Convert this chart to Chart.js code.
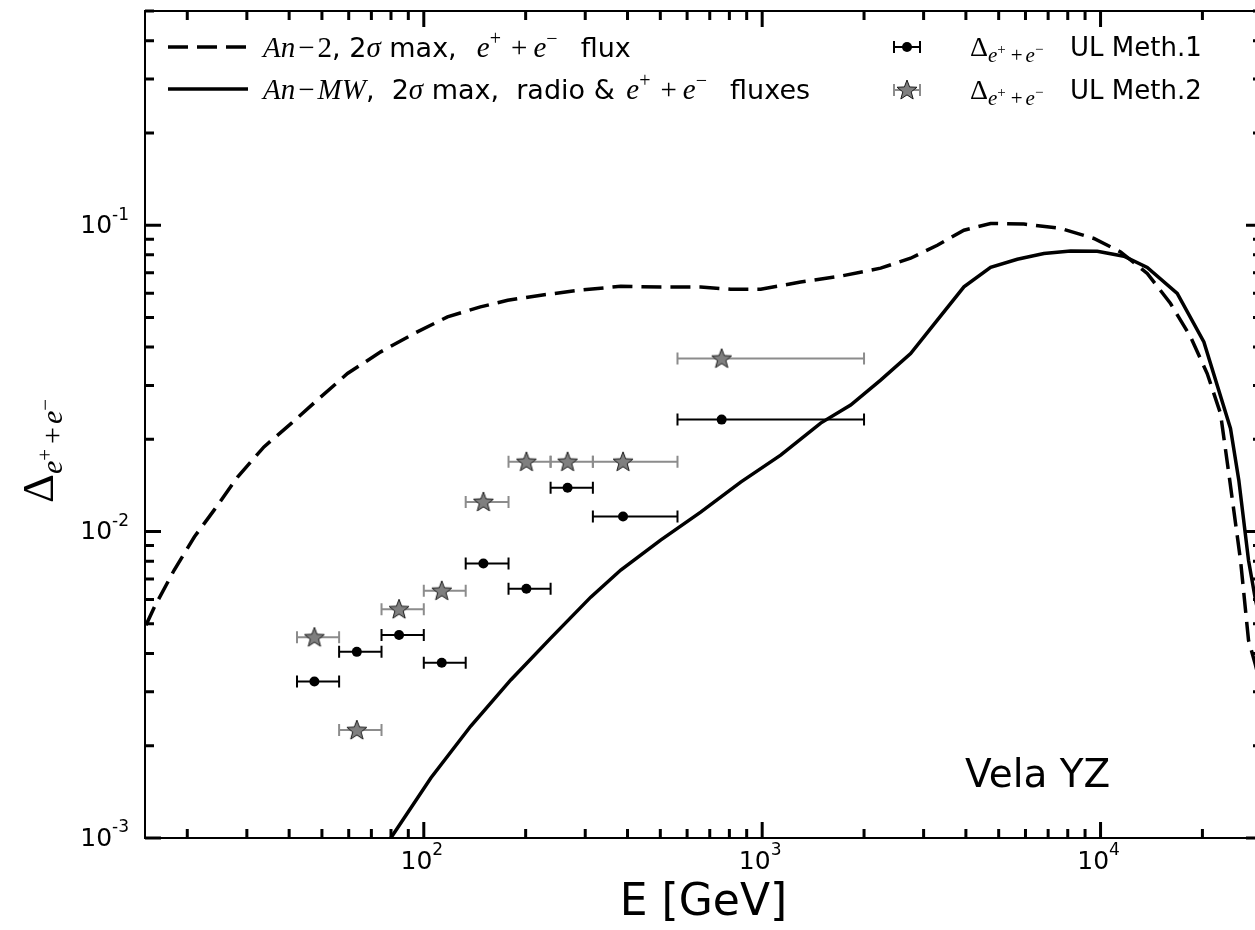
<!DOCTYPE html>
<html>
<head>
<meta charset="utf-8">
<script src="https://cdn.jsdelivr.net/npm/chart.js@4.4.1/dist/chart.umd.min.js"></script>
<style>
  html, body { margin: 0; padding: 0; background: #fff; overflow: hidden; width: 1255px; height: 930px; }
  #wrap { position: relative; width: 1270px; height: 930px; }
  canvas { display: block; }
</style>
</head>
<body>
<div id="wrap"><canvas id="chart" width="1270" height="930"></canvas></div>
<script>
// ---- Upper limits on the e+ + e- anisotropy for Vela YZ ----
const energy  = [47.5, 63.4, 84.5, 113, 150, 201, 266, 388, 759];        // GeV, bin centres
const binLow  = [42.2, 56.2, 75.0, 100, 133, 178, 237, 316, 562];        // GeV
const binHigh = [56.2, 75.0, 100, 133, 178, 237, 316, 562, 2000];        // GeV
const ulMeth1 = [0.00324, 0.00405, 0.00460, 0.00373, 0.00787, 0.00651, 0.0139, 0.0112, 0.0232];
const ulMeth2 = [0.00452, 0.00225, 0.00558, 0.00641, 0.0125, 0.0169, 0.0169, 0.0169, 0.0367];

// ---- Model curves: 2 sigma maximal anisotropy ----
const an2Energy = [15.1, 16.0, 18.3, 21.0, 24.0, 28.2, 33.7, 40.5, 48.5, 59.5, 74.6, 93.6, 117.5, 147, 177, 222,
                   291, 382, 501, 658, 807, 990, 1299, 1706, 2239, 2746, 3293, 3947, 4732, 5934, 7618, 9556,
                   11460, 13740, 16100, 18450, 20660, 22620, 23930, 25920, 27370, 28700, 30000];
const an2Delta  = [0.00495, 0.00568, 0.00749, 0.00962, 0.01175, 0.0151, 0.0189, 0.0225, 0.0269, 0.0328, 0.0386,
                   0.0443, 0.0502, 0.0541, 0.0569, 0.0591, 0.0614, 0.0632, 0.0628, 0.0628, 0.0618, 0.0618, 0.0652,
                   0.0682, 0.0724, 0.0780, 0.0860, 0.0963, 0.1013, 0.1008, 0.0976, 0.0905, 0.0818, 0.0696, 0.0555,
                   0.0432, 0.0328, 0.0243, 0.0155, 0.00807, 0.00442, 0.00367, 0.0030];
const anMWEnergy = [79.9, 104.9, 137.7, 180.7, 237.2, 311.4, 382, 501, 658, 864, 1134, 1489, 1826, 2239, 2746,
                    3293, 3947, 4732, 5675, 6800, 8155, 9779, 11720, 13740, 16850, 20200, 24210, 25620, 27370,
                    28700, 30000];
const anMWDelta  = [0.001, 0.00157, 0.00232, 0.00328, 0.00449, 0.00611, 0.00749, 0.00938, 0.01158, 0.0145,
                    0.01777, 0.0226, 0.02587, 0.0312, 0.0381, 0.049, 0.0629, 0.0728, 0.0774, 0.0808, 0.0824,
                    0.0822, 0.0792, 0.0728, 0.0599, 0.0416, 0.0217, 0.01472, 0.00806, 0.00598, 0.0048];

// ---- Axis settings ----
const xRange = [15, 30000];
const yRange = [0.001, 0.5];
const xLabelTicks = [100, 1000, 10000];
const yLabelTicks = [0.001, 0.01, 0.1];

const SANS = '"DejaVu Sans", sans-serif';
const SERIF = '"Liberation Serif", "DejaVu Serif", serif';

// five-pointed star marker
function makeStar(size, rOut, rIn, fill, edge) {
  const c = document.createElement('canvas');
  c.width = size; c.height = size;
  const g = c.getContext('2d');
  const cx = size / 2, cy = size / 2 + 0.5;
  g.beginPath();
  for (let i = 0; i < 10; i++) {
    const r = i % 2 === 0 ? rOut : rIn;
    const a = -Math.PI / 2 + i * Math.PI / 5;
    const px = cx + r * Math.cos(a), py = cy + r * Math.sin(a);
    if (i === 0) g.moveTo(px, py); else g.lineTo(px, py);
  }
  g.closePath();
  g.fillStyle = fill; g.fill();
  g.lineWidth = 1; g.strokeStyle = edge; g.stroke();
  return c;
}
const starImg = makeStar(26, 10.5, 4.4, '#7f7f7f', '#1a1a1a');

function logTicks(min, max) {
  const out = [];
  for (let e = Math.floor(Math.log10(min)); e <= Math.ceil(Math.log10(max)); e++) {
    for (let k = 1; k <= 9; k++) {
      const v = k * Math.pow(10, e);
      if (v >= min * 0.999 && v <= max * 1.001) out.push({ v, major: k === 1 });
    }
  }
  return out;
}

// text runs: [{t, font, dy, gap}]
function runsWidth(ctx, runs) {
  let w = 0;
  for (const r of runs) { ctx.font = r.font; w += ctx.measureText(r.t).width + (r.gap || 0); }
  return w;
}
function drawRuns(ctx, x, y, runs) {
  let cx = x;
  for (const r of runs) {
    ctx.font = r.font;
    ctx.fillText(r.t, cx, y + (r.dy || 0));
    cx += ctx.measureText(r.t).width + (r.gap || 0);
  }
  return cx;
}
function powRuns(v) {
  const e = Math.round(Math.log10(v));
  return [{ t: '10', font: `25px ${SANS}` }, { t: e < 0 ? '-' + (-e) : String(e), font: `17px ${SANS}`, dy: -11 }];
}
// e^+ + e^- written as a math expression
function leptonRuns(size, supSize, rise, gap, tail) {
  const it = `italic ${size}px ${SERIF}`, rm = `${size}px ${SERIF}`, sp = `${supSize}px ${SERIF}`;
  return [
    { t: 'e', font: it }, { t: '+', font: sp, dy: -rise, gap: gap }, { t: '+', font: rm, gap: gap * 0.6 },
    { t: 'e', font: it }, { t: '\u2212', font: sp, dy: -rise, gap: tail || 0 }
  ];
}

// error bars under the markers
const errorBarPlugin = {
  id: 'errorBars',
  beforeDatasetsDraw(chart) {
    const { ctx, scales: { x, y } } = chart;
    const sets = [
      { vals: ulMeth2, color: '#8c8c8c' },
      { vals: ulMeth1, color: '#000000' }
    ];
    ctx.save();
    for (const s of sets) {
      ctx.strokeStyle = s.color;
      ctx.lineWidth = 2;
      for (let i = 0; i < energy.length; i++) {
        const py = y.getPixelForValue(s.vals[i]);
        const x0 = x.getPixelForValue(binLow[i]);
        const x1 = x.getPixelForValue(binHigh[i]);
        ctx.beginPath();
        ctx.moveTo(x0, py); ctx.lineTo(x1, py);
        ctx.moveTo(x0, py - 6); ctx.lineTo(x0, py + 6);
        ctx.moveTo(x1, py - 6); ctx.lineTo(x1, py + 6);
        ctx.stroke();
      }
    }
    ctx.restore();
  }
};

// frame, inward ticks, tick labels, legends and annotation
const framePlugin = {
  id: 'frame',
  afterDraw(chart) {
    const { ctx, chartArea: a, scales: { x, y } } = chart;
    ctx.save();
    ctx.strokeStyle = '#000';
    ctx.fillStyle = '#000';
    ctx.lineWidth = 2;
    ctx.strokeRect(a.left, a.top, a.right - a.left, a.bottom - a.top);
    ctx.lineWidth = 3;
    for (const t of logTicks(xRange[0], xRange[1])) {
      const px = x.getPixelForValue(t.v);
      const len = t.major ? 16 : 9;
      ctx.beginPath();
      ctx.moveTo(px, a.bottom); ctx.lineTo(px, a.bottom - len);
      ctx.moveTo(px, a.top); ctx.lineTo(px, a.top + len);
      ctx.stroke();
    }
    for (const t of logTicks(yRange[0], yRange[1])) {
      const py = y.getPixelForValue(t.v);
      const len = t.major ? 16 : 9;
      ctx.beginPath();
      ctx.moveTo(a.left, py); ctx.lineTo(a.left + len, py);
      ctx.moveTo(a.right, py); ctx.lineTo(a.right - len, py);
      ctx.stroke();
    }

    // decade labels on both axes
    ctx.textBaseline = 'middle';
    for (const t of x.ticks) {
      const runs = powRuns(t.value);
      const w = runsWidth(ctx, runs);
      drawRuns(ctx, x.getPixelForValue(t.value) - w / 2 - 2, a.bottom + 24, runs);
    }
    for (const t of y.ticks) {
      const runs = powRuns(t.value);
      const w = runsWidth(ctx, runs);
      drawRuns(ctx, a.left - 16 - w, y.getPixelForValue(t.value) + 1, runs);
    }

    // left legend: model curves
    ctx.textBaseline = 'alphabetic';
    ctx.lineWidth = 3.5;
    ctx.setLineDash([20, 9]);
    ctx.beginPath(); ctx.moveTo(168, 47); ctx.lineTo(248, 47); ctx.stroke();
    ctx.setLineDash([]);
    ctx.beginPath(); ctx.moveTo(168, 89); ctx.lineTo(248, 89); ctx.stroke();

    const it = `italic 29px ${SERIF}`, rm = `29px ${SERIF}`, sf = `27px ${SANS}`;
    drawRuns(ctx, 263, 57, [
      { t: 'An', font: it, gap: 3 }, { t: '\u2212', font: rm, gap: 3 }, { t: '2', font: rm },
      { t: ', 2', font: sf }, { t: '\u03C3', font: it }, { t: ' max,  ', font: sf, gap: 3 },
      ...leptonRuns(29, 20, 12, 10, 6), { t: '  flux', font: sf }
    ]);
    drawRuns(ctx, 263, 99, [
      { t: 'An', font: it, gap: 3 }, { t: '\u2212', font: rm, gap: 3 }, { t: 'MW', font: it },
      { t: ',  2', font: sf }, { t: '\u03C3', font: it }, { t: ' max,  radio & ', font: sf, gap: 3 },
      ...leptonRuns(29, 20, 12, 10, 6), { t: '  fluxes', font: sf }
    ]);

    // right legend: upper-limit markers
    const mx = 907;
    [[47, '#000', 'circle', '1'], [90, '#8c8c8c', 'star', '2']].forEach(([ly, col, kind, n]) => {
      ctx.strokeStyle = col; ctx.lineWidth = 2;
      ctx.beginPath();
      ctx.moveTo(894, ly); ctx.lineTo(920, ly);
      ctx.moveTo(894, ly - 6); ctx.lineTo(894, ly + 6);
      ctx.moveTo(920, ly - 6); ctx.lineTo(920, ly + 6);
      ctx.stroke();
      if (kind === 'circle') {
        ctx.fillStyle = '#000';
        ctx.beginPath(); ctx.arc(mx, ly, 5, 0, Math.PI * 2); ctx.fill();
      } else {
        ctx.drawImage(starImg, mx - 13, ly - 13);
      }
      ctx.fillStyle = '#000';
      ctx.font = `28px ${SERIF}`;
      ctx.fillText('\u0394', 970, ly + 9);
      const sub = leptonRuns(21, 15, 8, 5).map(r => ({ ...r, dy: (r.dy || 0) + 6 }));
      drawRuns(ctx, 988, ly + 9, sub);
      ctx.font = `26px ${SANS}`;
      ctx.fillText('UL Meth.' + n, 1070, ly + 9);
    });

    // source name
    ctx.font = `39px ${SANS}`;
    ctx.fillText('Vela YZ', 965, 787);

    // y-axis title, rotated
    ctx.save();
    ctx.translate(53, 503);
    ctx.rotate(-Math.PI / 2);
    ctx.font = `45px ${SERIF}`;
    ctx.fillText('\u0394', 0, 0);
    const w0 = ctx.measureText('\u0394').width;
    drawRuns(ctx, w0, 0, leptonRuns(30, 21, 10, 5).map(r => ({ ...r, dy: (r.dy || 0) + 9 })));
    ctx.restore();
    ctx.restore();
  }
};

new Chart(document.getElementById('chart'), {
  data: {
    datasets: [
      { type: 'scatter', label: 'Meth.1', data: energy.map((e, i) => ({ x: e, y: ulMeth1[i] })),
        pointStyle: 'circle', pointRadius: 5, backgroundColor: '#000', borderWidth: 0 },
      { type: 'scatter', label: 'Meth.2', data: energy.map((e, i) => ({ x: e, y: ulMeth2[i] })),
        pointStyle: starImg },
      { type: 'line', label: 'An-MW', data: anMWEnergy.map((e, i) => ({ x: e, y: anMWDelta[i] })),
        borderColor: '#000', borderWidth: 3.5, pointRadius: 0, tension: 0, fill: false },
      { type: 'line', label: 'An-2', data: an2Energy.map((e, i) => ({ x: e, y: an2Delta[i] })),
        borderColor: '#000', borderWidth: 3.5, borderDash: [20, 9], pointRadius: 0, tension: 0, fill: false }
    ]
  },
  options: {
    responsive: false,
    animation: false,
    devicePixelRatio: 1,
    layout: { padding: { left: 0, top: 11, right: 8, bottom: 0 } },
    plugins: { legend: { display: false }, tooltip: { enabled: false } },
    scales: {
      x: {
        type: 'logarithmic', position: 'bottom', min: xRange[0], max: xRange[1],
        afterFit: s => { s.height = 92; s.paddingLeft = 0; s.paddingRight = 0; },
        afterBuildTicks: s => { s.ticks = xLabelTicks.map(v => ({ value: v })); },
        grid: { display: false, drawTicks: false },
        border: { display: false },
        ticks: { display: false },
        title: { display: true, text: 'E [GeV]', color: '#000', font: { family: SANS, size: 44 }, padding: { top: 38, bottom: 0 } }
      },
      y: {
        type: 'logarithmic', position: 'left', min: yRange[0], max: yRange[1],
        afterFit: s => { s.width = 145; s.paddingTop = 0; s.paddingBottom = 0; },
        afterBuildTicks: s => { s.ticks = yLabelTicks.map(v => ({ value: v })); },
        grid: { display: false, drawTicks: false },
        border: { display: false },
        ticks: { display: false }
      }
    }
  },
  plugins: [errorBarPlugin, framePlugin]
});
</script>
</body>
</html>
